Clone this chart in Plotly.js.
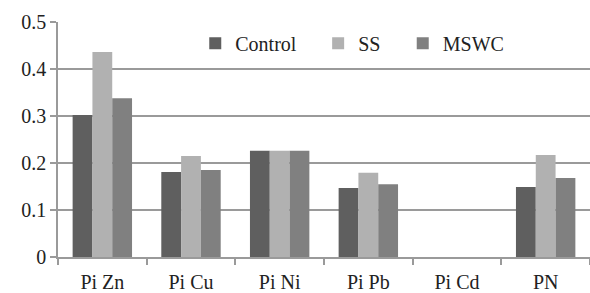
<!DOCTYPE html>
<html><head><meta charset="utf-8">
<script src="https://cdn.plot.ly/plotly-3.0.1.min.js"></script>
<style>html,body{margin:0;padding:0;background:#fff}#c{width:590px;height:293px}</style>
</head><body><div id="c"></div>
<script>
var categories = ["Pi Zn", "Pi Cu", "Pi Ni", "Pi Pb", "Pi Cd", "PN"];
var control = [0.302, 0.181, 0.226, 0.147, 0, 0.149];
var ss = [0.436, 0.215, 0.226, 0.179, 0, 0.217];
var mswc = [0.338, 0.185, 0.226, 0.155, 0, 0.168];
var seriesNames = ["Control", "SS", "MSWC"];
var colors = ["#5f5f5f", "#b1b1b1", "#808080"];
var yTicks = [0, 0.1, 0.2, 0.3, 0.4, 0.5];
var yTickText = ["0", "0.1", "0.2", "0.3", "0.4", "0.5"];

var legendNames = ["legend", "legend2", "legend3"];
var legendX = [0.258, 0.489, 0.648];
var vals = [control, ss, mswc];
function mkFont(){ return {family:"serif", size:20, color:"#222"}; }
function draw(){
  var traces = vals.map(function(v, i){
    return {type:"bar", x:categories, y:v, name:seriesNames[i], legend:legendNames[i],
      marker:{color:colors[i], line:{width:0}}};
  });
  var layout = {
    width:590, height:293,
    margin:{l:58, r:0, t:22, b:36},
    paper_bgcolor:"#fff", plot_bgcolor:"#fff",
    font:mkFont(),
    barmode:"group", bargap:0.33, bargroupgap:0,
    showlegend:true,
    xaxis:{type:"category", showline:true, linecolor:"#9a9a9a", linewidth:1.5,
      ticks:"outside", tickson:"boundaries", ticklen:6, tickcolor:"#9a9a9a", tickwidth:1.5,
      ticklabelstandoff:6,
      showgrid:false, tickfont:mkFont(), automargin:false},
    yaxis:{range:[0,0.5], tickvals:yTicks, ticktext:yTickText, showline:true,
      linecolor:"#9a9a9a", linewidth:1.5, ticks:"outside", ticklen:6, tickcolor:"#9a9a9a", tickwidth:1.5,
      showgrid:true, gridcolor:"#9a9a9a", gridwidth:1.5, zeroline:false,
      tickfont:mkFont(), automargin:false}
  };
  legendNames.forEach(function(n, i){
    layout[n] = {orientation:"h", x:legendX[i], y:0.91, xanchor:"left", yanchor:"middle",
      font:mkFont(), bgcolor:"rgba(0,0,0,0)", itemwidth:30};
  });
  return Plotly.newPlot("c", traces, layout, {displayModeBar:false});
}
draw().then(function(){ return draw(); });
setTimeout(draw, 100);
setTimeout(draw, 400);
if (document.fonts && document.fonts.ready) { document.fonts.ready.then(function(){ draw(); }); }
</script></body></html>
